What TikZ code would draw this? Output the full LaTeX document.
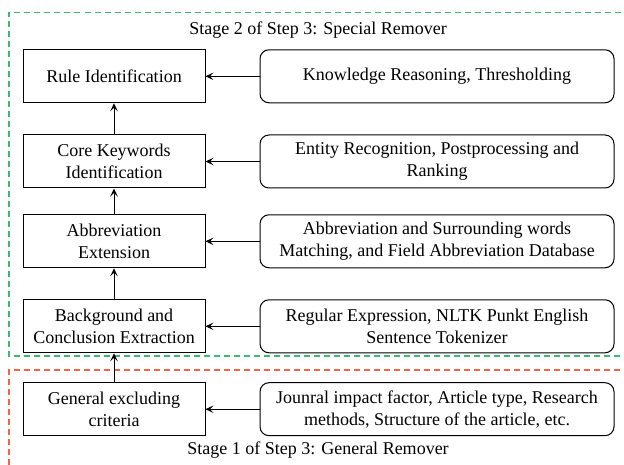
\documentclass[tikz,border=0pt]{standalone}
\usepackage{fontspec}
\setmainfont{Liberation Serif}
\usetikzlibrary{arrows.meta}
\definecolor{stagegreen}{RGB}{60,185,110}
\definecolor{stagered}{RGB}{245,100,72}
\begin{document}
\begin{tikzpicture}[x=1pt,y=1pt,
  every node/.style={font=\fontsize{18}{21.7}\selectfont, align=center, inner sep=0pt},
  stepbox/.style={draw, line width=1pt, minimum width=182pt, minimum height=53pt},
  methodbox/.style={draw, line width=1pt, rounded corners=9pt, minimum width=354pt, minimum height=53pt},
  flow/.style={line width=1pt, -{Stealth[length=8pt,width=7.5pt,inset=3.5pt]}},
  stageframe/.style={line width=1.4pt, dash pattern=on 6pt off 4pt}]
\useasboundingbox (0,0) rectangle (624,464);
\begin{scope}
\clip (0,0) rectangle (624,464);
% stage frames, open to the right and bottom
\draw[stageframe, stagegreen] (640,108) -| (9,451.5) -- (640,451.5);
\draw[stageframe, stagered] (640,94) -| (9,-10);
\end{scope}

\node (t2) at (318,434) {Stage 2 of Step 3: Special Remover};
\node (t1) at (318,13.5) {Stage 1 of Step 3: General Remover};

% processing steps
\node[stepbox] (rule) at (114,387.7) {Rule Identification};
\node[stepbox] (core) at (114,302.5) {Core Keywords\\Identification};
\node[stepbox] (abbr) at (114,222.7) {Abbreviation\\Extension};
\node[stepbox] (back) at (114,137.7) {Background and\\Conclusion Extraction};
\node[stepbox] (gen) at (114,54.8) {General excluding\\criteria};

% methods used by each step
\node[methodbox] (m1) at (437,387.7) {Knowledge Reasoning, Thresholding};
\node[methodbox] (m2) at (437,302.5) {Entity Recognition, Postprocessing and\\Ranking};
\node[methodbox] (m3) at (437,222.7) {Abbreviation and Surrounding words\\Matching, and Field Abbreviation Database};
\node[methodbox] (m4) at (437,137.7) {Regular Expression, NLTK Punkt English\\Sentence Tokenizer};
\node[methodbox] (m5) at (437,54.8) {Jounral impact factor, Article type, Research\\methods, Structure of the article, etc.};

\draw[flow] (gen) -- (back);
\draw[flow] (back) -- (abbr);
\draw[flow] (abbr) -- (core);
\draw[flow] (core) -- (rule);

\draw[flow] (m1) -- (rule);
\draw[flow] (m2) -- (core);
\draw[flow] (m3) -- (abbr);
\draw[flow] (m4) -- (back);
\draw[flow] (m5) -- (gen);
\end{tikzpicture}
\end{document}
